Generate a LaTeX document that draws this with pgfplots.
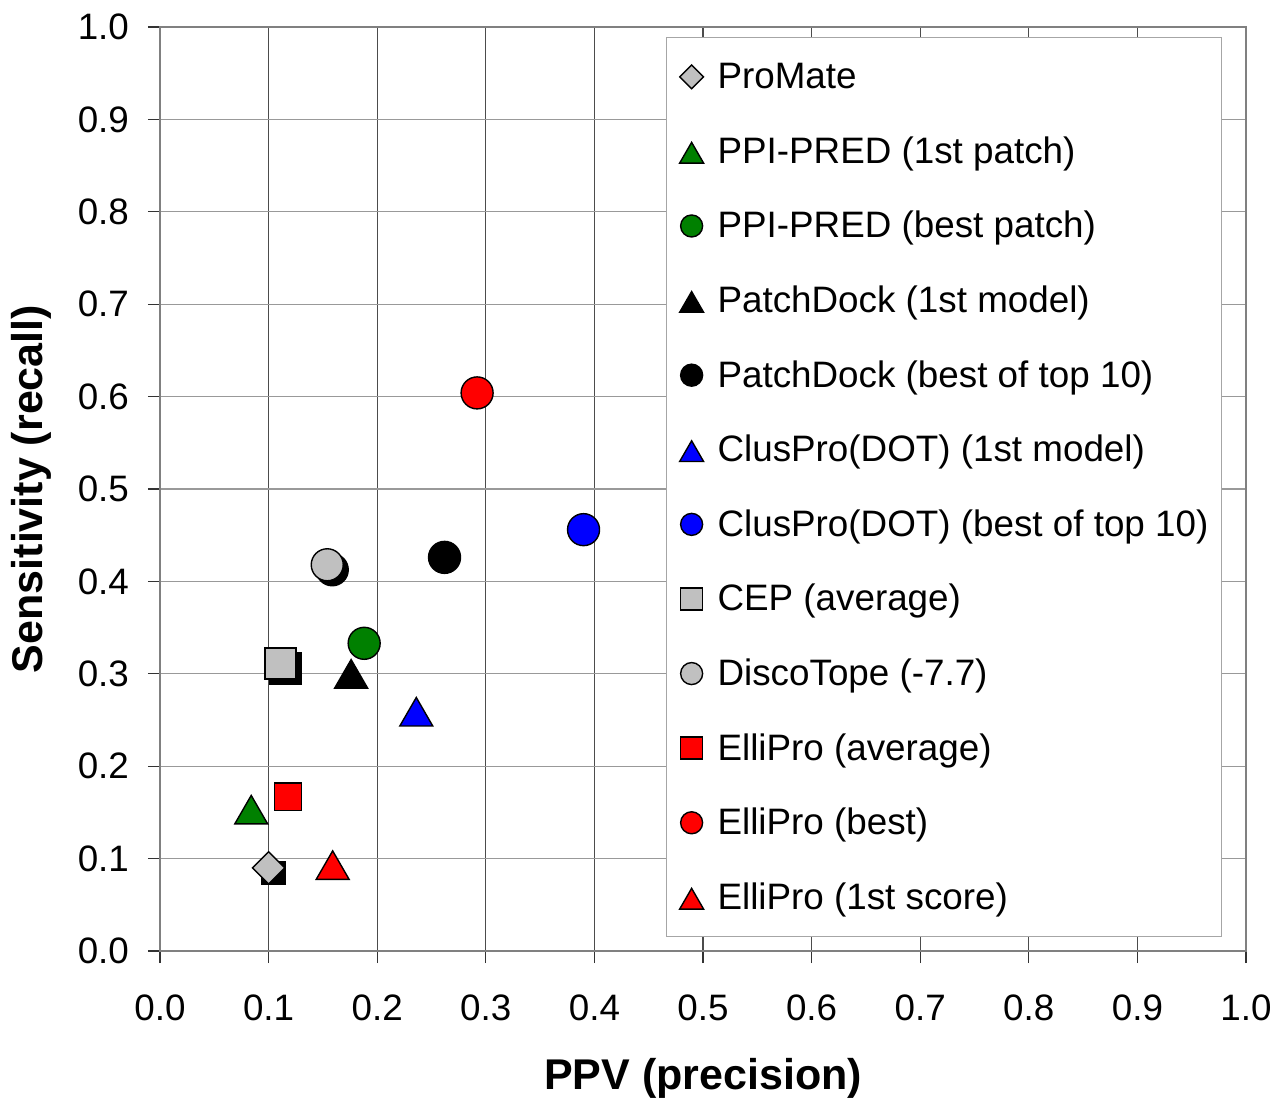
\documentclass[border=0pt]{standalone}
\usepackage{fontspec}
\setmainfont{Liberation Sans}
\usepackage{pgfplots}
\pgfplotsset{compat=1.18}

\definecolor{silver}{RGB}{192,192,192}
\definecolor{dgreen}{RGB}{0,128,0}

\pgfplotsset{
  mk/.style={only marks, line width=0.7pt},
  dia/.style={mk, mark=square*, mark size=5.7pt,
    mark options={rotate=45, fill=#1, draw=black},
    legend image code/.code={\draw[mark size=4.2pt] plot coordinates {(0pt,0pt)};}},
  tri/.style={mk, mark=triangle*, mark size=9.5pt,
    mark options={fill=#1, draw=black, yshift=-2.4pt},
    legend image code/.code={\draw[mark size=6.9pt] plot coordinates {(0pt,0pt)};}},
  circ/.style={mk, mark=*, mark size=8pt,
    mark options={fill=#1, draw=black},
    legend image code/.code={\draw[mark size=5.5pt] plot coordinates {(0pt,0pt)};}},
  sq/.style 2 args={mk, mark=square*, mark size=#2,
    mark options={fill=#1, draw=black},
    legend image code/.code={\draw[mark size=5.5pt] plot coordinates {(0pt,0pt)};}},
  shadow/.style={forget plot, mark options={draw=black, fill=black, xshift=2.5pt, yshift=-2.5pt}},
}

\begin{document}
\begin{tikzpicture}
\begin{axis}[
    width=543pt, height=462pt,
    scale only axis,
    xmin=0, xmax=1, ymin=0, ymax=1,
    xtick={0,0.1,...,1.0}, ytick={0,0.1,...,1.0},
    xticklabel style={/pgf/number format/.cd, fixed, fixed zerofill, precision=1},
    yticklabel style={/pgf/number format/.cd, fixed, fixed zerofill, precision=1},
    /pgf/number format/assume math mode=true,
    ticklabel style={font=\fontsize{18.4}{21}\selectfont},
    xticklabel shift=12.5pt, yticklabel shift=6pt,
    tick align=outside, major tick length=6pt,
    xtick pos=bottom, ytick pos=left,
    tick style={black!80, line width=0.6pt},
    grid=major,
    major x grid style={black!70, line width=0.55pt},
    major y grid style={gray!80, line width=0.6pt},
    axis line style={gray, line width=0.6pt},
    xlabel={\bfseries PPV (precision)},
    ylabel={\bfseries Sensitivity (recall)},
    label style={font=\fontsize{21.5}{25}\selectfont},
    xlabel style={yshift=-11.5pt},
    ylabel style={yshift=6.5pt},
    legend cell align=left,
    legend style={at={(0.466,0.989)}, anchor=north west,
      draw=gray!70, fill=white, line width=0.6pt,
      font=\fontsize{18.4}{21}\selectfont,
      inner xsep=6.5pt, inner ysep=10.5pt,
      row sep=19.3pt, column sep=7pt,
      nodes={inner sep=0pt, text height=15pt, text depth=3pt}},
]
% shadows behind the grey markers
\addplot[dia=black, shadow] coordinates {(0.100,0.090)};
\addplot[sq={black}{7.75pt}, shadow] coordinates {(0.111,0.311)};
\addplot[circ=black, shadow] coordinates {(0.154,0.418)};

\addplot[dia=silver] coordinates {(0.100,0.090)};
\addlegendentry{ProMate}
\addplot[tri=dgreen] coordinates {(0.084,0.153)};
\addlegendentry{PPI-PRED (1st patch)}
\addplot[circ=dgreen] coordinates {(0.188,0.333)};
\addlegendentry{PPI-PRED (best patch)}
\addplot[tri=black] coordinates {(0.176,0.300)};
\addlegendentry{PatchDock (1st model)}
\addplot[circ=black] coordinates {(0.262,0.426)};
\addlegendentry{PatchDock (best of top 10)}
\addplot[tri=blue] coordinates {(0.236,0.259)};
\addlegendentry{ClusPro(DOT) (1st model)}
\addplot[circ=blue] coordinates {(0.390,0.456)};
\addlegendentry{ClusPro(DOT) (best of top 10)}
\addplot[sq={silver}{7.75pt}] coordinates {(0.111,0.311)};
\addlegendentry{CEP (average)}
\addplot[circ=silver] coordinates {(0.154,0.418)};
\addlegendentry{DiscoTope (-7.7)}
\addplot[sq={red}{6.8pt}] coordinates {(0.118,0.167)};
\addlegendentry{ElliPro (average)}
\addplot[circ=red] coordinates {(0.292,0.604)};
\addlegendentry{ElliPro (best)}
\addplot[tri=red] coordinates {(0.159,0.093)};
\addlegendentry{ElliPro (1st score)}

\coordinate (sw) at (rel axis cs:0,0);
\coordinate (ne) at (rel axis cs:1,1);
\end{axis}
\pgfresetboundingbox
\path ([shift={(-80pt,-74pt)}]sw) rectangle ([shift={(15pt,13.5pt)}]ne);
\end{tikzpicture}
\end{document}
